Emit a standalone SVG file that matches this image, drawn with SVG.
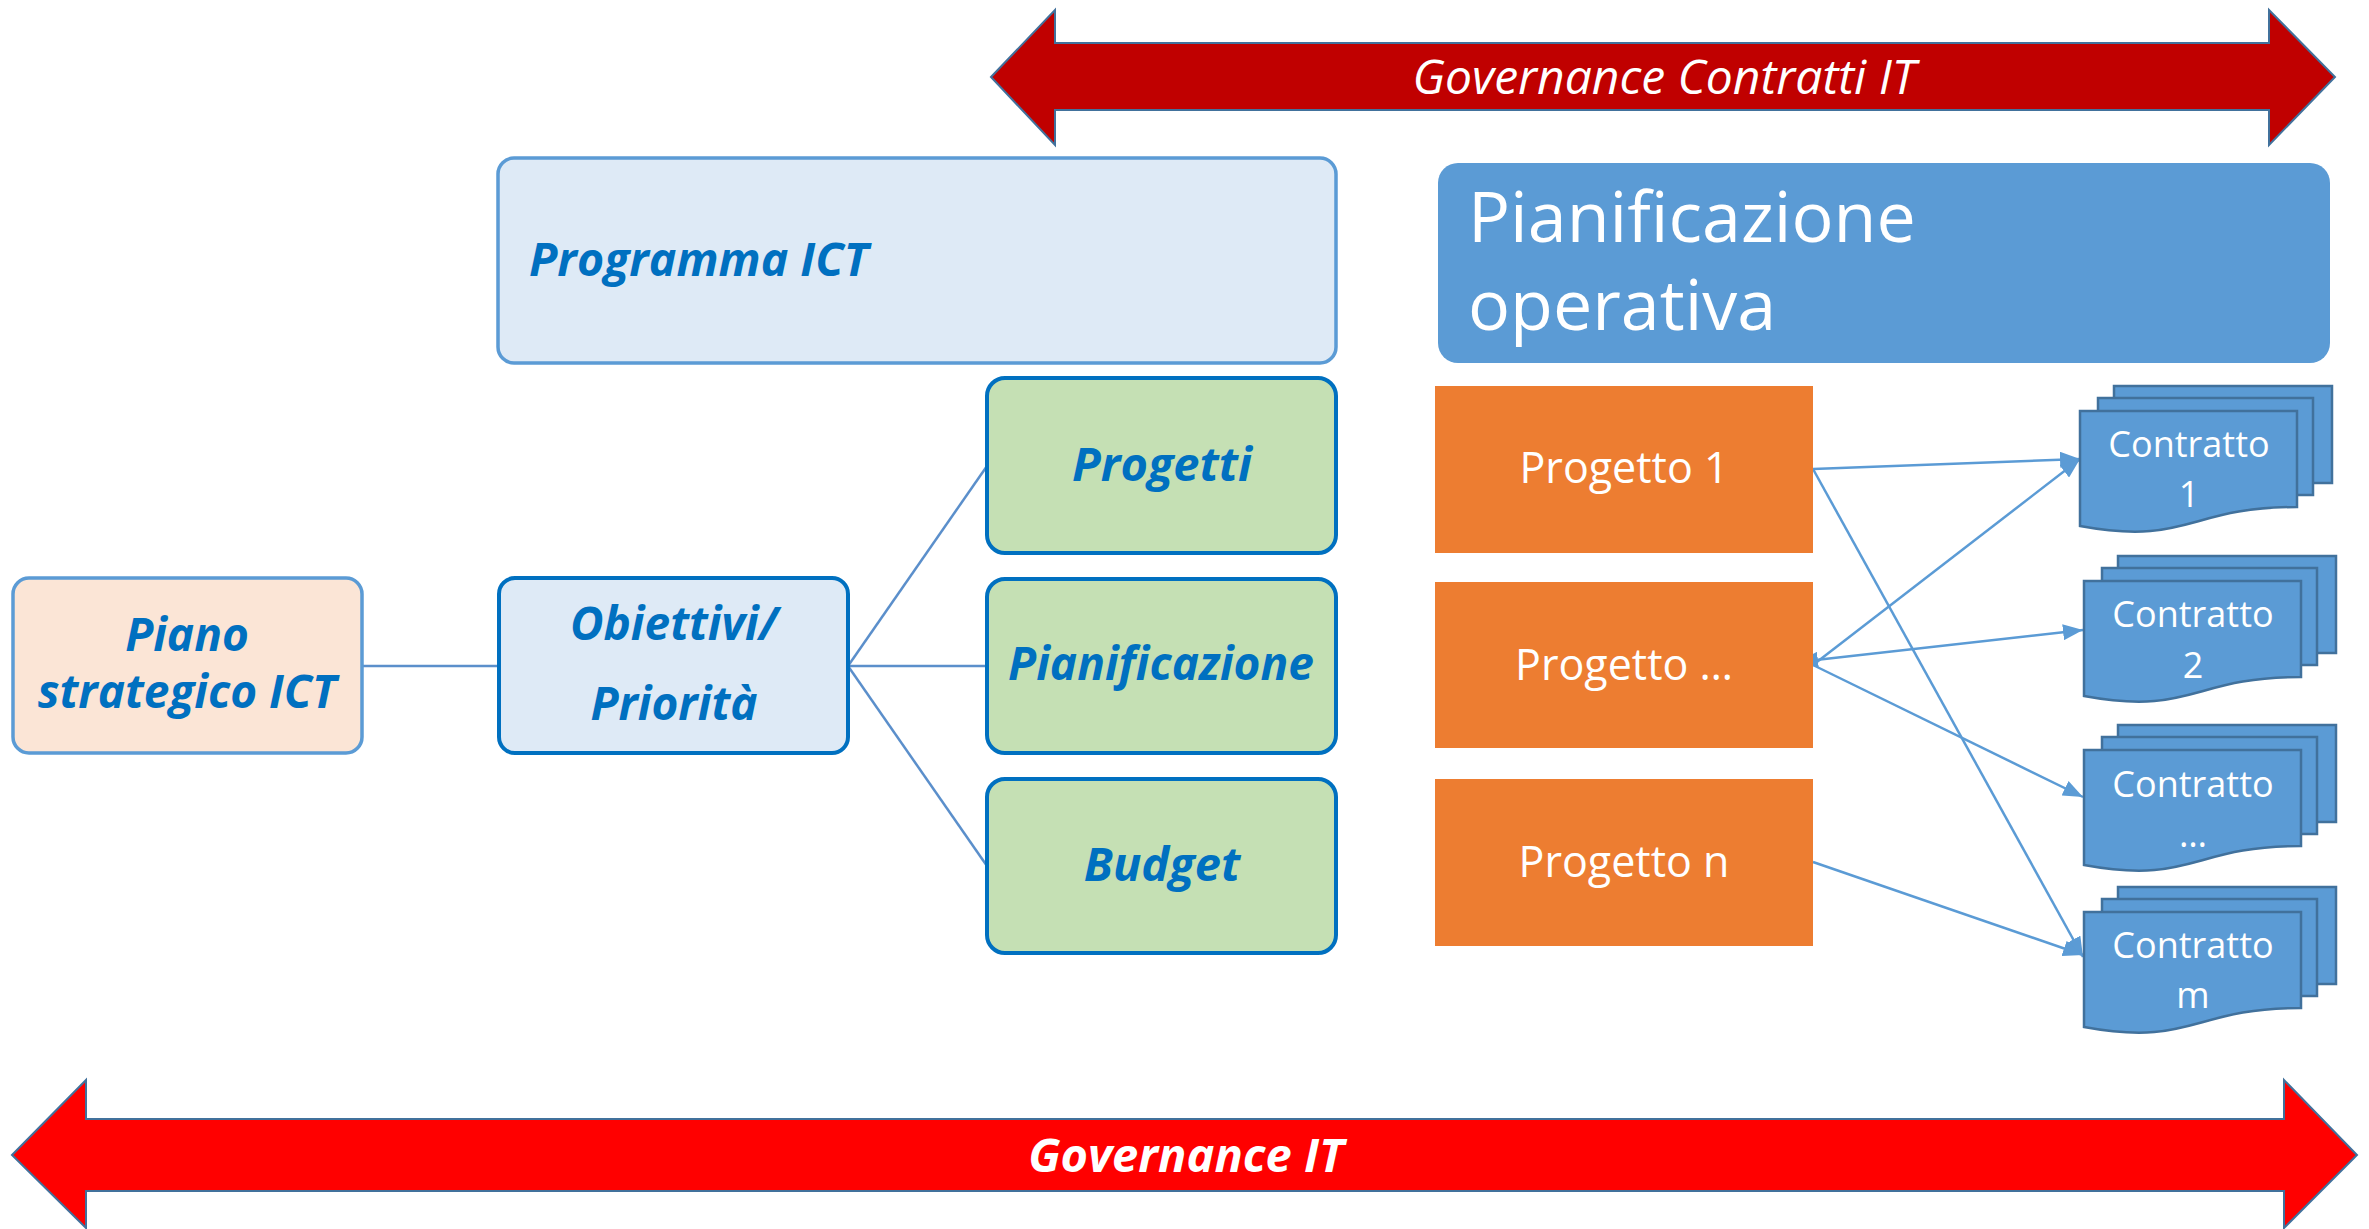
<svg xmlns="http://www.w3.org/2000/svg" width="2369" height="1229" viewBox="0 0 2369 1229">
<style>
.bi{font-family:"Open Sans","Liberation Sans",sans-serif;font-weight:bold;font-style:italic;fill:#0070C0;text-anchor:middle}
.wt{font-family:"Open Sans","Liberation Sans",sans-serif;fill:#FFFFFF;text-anchor:middle}
.doc{fill:#5B9BD5;stroke:#41719C;stroke-width:2.5}
.conn{stroke:#5B8FCB;stroke-width:2.5;fill:none}
.arr{stroke:#5B9BD5;stroke-width:2.5;fill:none;marker-end:url(#ah)}
.orange{fill:#ED7D31}
.green{fill:#C5E0B4;stroke:#0070C0;stroke-width:4}
</style>
<defs>
<marker id="ah" viewBox="0 0 20 16" refX="20" refY="8" markerWidth="20" markerHeight="16" markerUnits="userSpaceOnUse" orient="auto-start-reverse">
<path d="M0,0 L20,8 L0,16 Z" fill="#5B9BD5"/>
</marker>
<g id="stack">
<rect x="34" y="-25" width="218" height="97" class="doc"/>
<rect x="18" y="-13" width="215" height="97" class="doc"/>
<path d="M0,0 H217 V96 C108,96 108,135 0,115 Z" class="doc"/>
</g>
</defs>
<rect width="2369" height="1229" fill="#FFFFFF"/>

<g id="governance-contratti">
<polygon points="991,77 1055,10 1055,43 2269,43 2269,10 2335,77 2269,145 2269,110 1055,110 1055,145" fill="#C00000" stroke="#41719C" stroke-width="2"/>
<text x="1664" y="94" font-family="'Open Sans','Liberation Sans',sans-serif" font-style="italic" font-size="48" fill="#FFFFFF" text-anchor="middle">Governance Contratti IT</text>
</g>

<g id="governance-it">
<polygon points="12,1155 86,1080 86,1119 2284,1119 2284,1080 2357,1155 2284,1228 2284,1191 86,1191 86,1228" fill="#FF0000" stroke="#41719C" stroke-width="2"/>
<text x="1186" y="1172" font-family="'Open Sans','Liberation Sans',sans-serif" font-weight="bold" font-style="italic" font-size="47" fill="#FFFFFF" text-anchor="middle">Governance IT</text>
</g>

<g id="connectors">
<line x1="362" y1="666" x2="499" y2="666" class="conn" stroke-width="3"/>
<line x1="848" y1="666" x2="987" y2="466" class="conn"/>
<line x1="848" y1="666" x2="987" y2="666" class="conn"/>
<line x1="848" y1="666" x2="987" y2="866" class="conn"/>
<line x1="1813" y1="469" x2="2080" y2="459" class="arr"/>
<line x1="1813" y1="469" x2="2083" y2="957" class="arr"/>
<line x1="1813" y1="665" x2="2080" y2="459" class="arr"/>
<line x1="1798" y1="662" x2="2083" y2="630" class="arr" marker-start="url(#ah)"/>
<line x1="1813" y1="665" x2="2083" y2="797" class="arr"/>
<line x1="1813" y1="862" x2="2083" y2="955" class="arr"/>
</g>

<g id="programma-ict">
<rect x="498" y="158" width="838" height="205" rx="16" fill="#DEEAF6" stroke="#5B9BD5" stroke-width="3.5"/>
<text x="529" y="276" class="bi" font-size="46.5" style="text-anchor:start">Programma ICT</text>
</g>

<g id="pianificazione-operativa">
<rect x="1438" y="163" width="892" height="200" rx="20" fill="#5B9BD5"/>
<text x="1468" y="242" class="wt" font-size="70" style="text-anchor:start">Pianificazione</text>
<text x="1468" y="330" class="wt" font-size="70" style="text-anchor:start">operativa</text>
</g>

<g id="piano-strategico">
<rect x="13" y="578" width="349" height="175" rx="16" fill="#FBE5D6" stroke="#5B9BD5" stroke-width="3.5"/>
<text x="187" y="651" class="bi" font-size="46">Piano</text>
<text x="187" y="708" class="bi" font-size="46">strategico ICT</text>
</g>

<g id="obiettivi">
<rect x="499" y="578" width="349" height="175" rx="16" fill="#DEEAF6" stroke="#0070C0" stroke-width="4"/>
<text x="674" y="640" class="bi" font-size="46">Obiettivi/</text>
<text x="674" y="720" class="bi" font-size="46">Priorità</text>
</g>

<g id="progetti">
<rect x="987" y="378" width="349" height="175" rx="18" class="green"/>
<text x="1162" y="481" class="bi" font-size="47">Progetti</text>
</g>
<g id="pianificazione">
<rect x="987" y="579" width="349" height="174" rx="18" class="green"/>
<text x="1161" y="680" class="bi" font-size="46">Pianificazione</text>
</g>
<g id="budget">
<rect x="987" y="779" width="349" height="174" rx="18" class="green"/>
<text x="1162" y="881" class="bi" font-size="47">Budget</text>
</g>

<g id="progetto-1">
<rect x="1435" y="386" width="378" height="167" class="orange"/>
<text x="1624" y="483" class="wt" font-size="43">Progetto 1</text>
</g>
<g id="progetto-dots">
<rect x="1435" y="582" width="378" height="166" class="orange"/>
<text x="1624" y="680" class="wt" font-size="43">Progetto …</text>
</g>
<g id="progetto-n">
<rect x="1435" y="779" width="378" height="167" class="orange"/>
<text x="1624" y="877" class="wt" font-size="43">Progetto n</text>
</g>

<g id="contratto-1">
<use href="#stack" x="2080" y="411"/>
<text x="2189" y="457" class="wt" font-size="36">Contratto</text>
<text x="2189" y="507" class="wt" font-size="36">1</text>
</g>
<g id="contratto-2">
<use href="#stack" x="2084" y="581"/>
<text x="2193" y="627" class="wt" font-size="36">Contratto</text>
<text x="2193" y="678" class="wt" font-size="36">2</text>
</g>
<g id="contratto-dots">
<use href="#stack" x="2084" y="750"/>
<text x="2193" y="797" class="wt" font-size="36">Contratto</text>
<text x="2193" y="847" class="wt" font-size="36">…</text>
</g>
<g id="contratto-m">
<use href="#stack" x="2084" y="912"/>
<text x="2193" y="958" class="wt" font-size="36">Contratto</text>
<text x="2193" y="1008" class="wt" font-size="36">m</text>
</g>
</svg>
